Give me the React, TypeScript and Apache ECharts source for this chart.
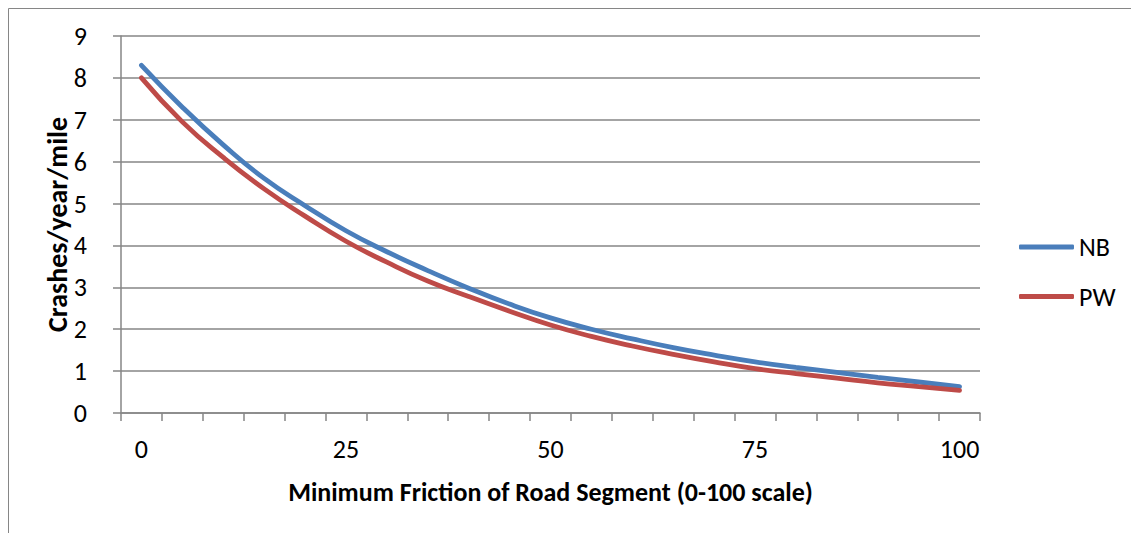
import React, { useEffect, useRef } from "react";
import * as echarts from "echarts";

const categories = ["0","5","10","15","20","25","30","35","40","45","50","55","60","65","70","75","80","85","90","95","100"];
const nbValues = [8.3,7.3,6.4,5.6,4.95,4.35,3.85,3.4,2.98,2.6,2.27,2.0,1.77,1.56,1.38,1.22,1.09,0.97,0.85,0.74,0.63];
const pwValues = [8.0,6.95,6.1,5.35,4.7,4.1,3.6,3.15,2.78,2.43,2.1,1.83,1.6,1.4,1.22,1.06,0.94,0.83,0.72,0.63,0.54];
const yTicks = { min: 0, max: 9, interval: 1 };

const FONT = "Carlito, Lato, 'Liberation Sans', sans-serif";
const GRID = "#868686";
const FS = 26;

export default function App() {
  const ref = useRef<HTMLDivElement>(null);
  useEffect(() => {
    if (!ref.current) return;
    const chart = echarts.init(ref.current, null, { renderer: "svg" });
    chart.setOption({
      animation: false,
      backgroundColor: "#ffffff",
      textStyle: { fontFamily: FONT },
      graphic: [
        {
          type: "rect",
          shape: { x: 0.5, y: 0.5, width: 3000, height: 3000 },
          style: { fill: "none", stroke: GRID, lineWidth: 1 },
          silent: true,
        },
      ],
      grid: { left: 113, right: 159, top: 28, bottom: 120, containLabel: false },
      legend: {
        orient: "vertical",
        left: 1006,
        top: 221,
        icon: "roundRect",
        itemWidth: 55,
        itemHeight: 5,
        itemGap: 23.5,
        textStyle: { fontFamily: FONT, fontSize: FS, color: "#000", lineHeight: 26 },
        data: ["NB", "PW"],
      },
      xAxis: {
        type: "category",
        data: categories,
        boundaryGap: true,
        name: "Minimum Friction of Road Segment (0-100 scale)",
        nameLocation: "middle",
        nameGap: 66,
        nameMoveOverlap: false,
        nameTextStyle: { fontFamily: FONT, fontSize: FS, fontWeight: "bold", color: "#000" },
        axisLine: { lineStyle: { color: GRID, width: 1.5 } },
        axisTick: { show: true, interval: 0, length: 8, lineStyle: { color: GRID, width: 1.5 } },
        axisLabel: { interval: 4, margin: 23, fontFamily: FONT, fontSize: FS, color: "#000" },
        splitLine: { show: false },
      },
      yAxis: {
        type: "value",
        min: yTicks.min,
        max: yTicks.max,
        interval: yTicks.interval,
        name: "Crashes/year/mile",
        nameLocation: "middle",
        nameGap: 50,
        nameMoveOverlap: false,
        nameRotate: 90,
        nameTextStyle: { fontFamily: FONT, fontSize: 28, fontWeight: "bold", color: "#000" },
        axisLine: { show: true, lineStyle: { color: GRID, width: 1.5 } },
        axisTick: { show: true, length: 8, lineStyle: { color: GRID, width: 1.5 } },
        axisLabel: { margin: 34, fontFamily: FONT, fontSize: FS, color: "#000" },
        splitLine: { show: true, lineStyle: { color: GRID, width: 1.5 } },
      },
      series: [
        {
          name: "NB",
          type: "line",
          data: nbValues,
          smooth: true,
          symbol: "none",
          lineStyle: { color: "#4A7EBB", width: 4.8, cap: "round" },
          itemStyle: { color: "#4A7EBB" },
        },
        {
          name: "PW",
          type: "line",
          data: pwValues,
          smooth: true,
          symbol: "none",
          lineStyle: { color: "#BE4B48", width: 4.8, cap: "round" },
          itemStyle: { color: "#BE4B48" },
        },
      ],
    });
    return () => chart.dispose();
  }, []);
  return <div ref={ref} style={{ width: 1131, height: 525 }} />;
}
